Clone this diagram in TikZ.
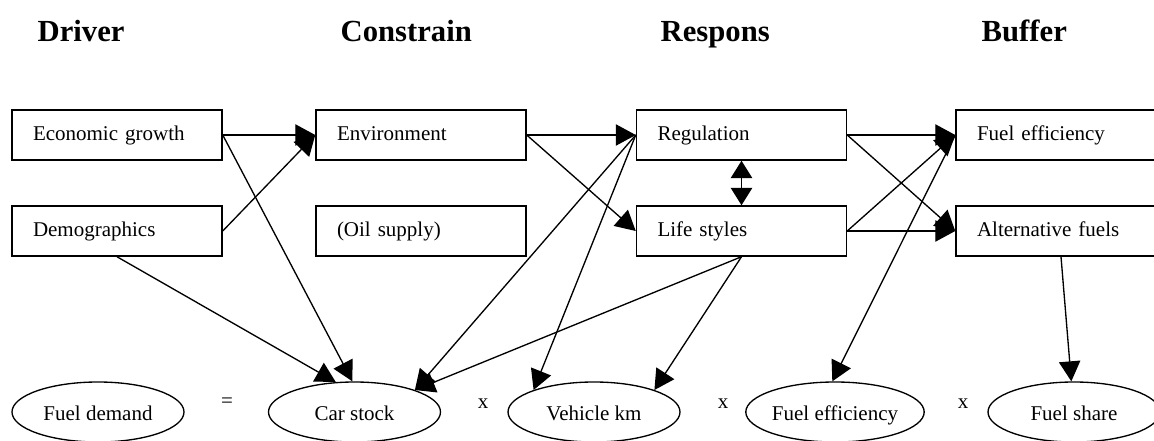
\documentclass[tikz,border=0pt]{standalone}
\usepackage{fontspec}
\setmainfont{Liberation Serif}
\usetikzlibrary{arrows.meta,shapes.geometric}
\begin{document}
\begin{tikzpicture}[x=0.75pt,y=-0.75pt,
    box/.style={draw,line width=1.1pt,minimum height=37.5pt,text width=126pt,inner xsep=15.75pt,align=left,text height=9pt,text depth=0pt,font=\fontsize{15.75pt}{18pt}\selectfont},
    oval/.style={draw,ellipse,line width=1pt,minimum width=129pt,minimum height=45pt,inner sep=0pt,text height=12.5pt,text depth=0pt,font=\fontsize{15.75pt}{18pt}\selectfont},
    op/.style={font=\fontsize{15.75pt}{18pt}\selectfont},
    head/.style={anchor=base west,font=\bfseries\fontsize{23pt}{26pt}\selectfont},
    arr/.style={line width=1pt,-{Triangle[length=15pt,width=16pt]}},
    dbl/.style={line width=1pt,{Triangle[length=13pt,width=16pt]}-{Triangle[length=13pt,width=16pt]}}]
    \useasboundingbox (0,0) rectangle (1154,441);
    \node[head] (hdriver) at (33,42) {Driver};
    \node[head] (hconstrain) at (336,42) {Constrain};
    \node[head] (hrespons) at (656,42) {Respons};
    \node[head] (hbuffer) at (977,42) {Buffer};
    \node[box] (econ) at (117,135) {Economic growth};
    \node[box] (demo) at (117,231) {Demographics};
    \node[box] (env) at (421,135) {Environment};
    \node[box] (oil) at (421,231) {(Oil supply)};
    \node[box] (reg) at (741.5,135) {Regulation};
    \node[box] (life) at (741.5,231) {Life styles};
    \node[box] (feffbox) at (1061,135) {Fuel efficiency};
    \node[box] (alt) at (1061,231) {Alternative fuels};
    \node[oval] (fdem) at (98,412) {Fuel demand};
    \node[oval] (cars) at (354.5,412) {Car stock};
    \node[oval] (vkm) at (594,412) {Vehicle km};
    \node[oval] (feff) at (835,412) {Fuel efficiency};
    \node[oval] (fshare) at (1074,412) {Fuel share};
    \node[op] (eq) at (227,403) {=};
    \node[op] (x1) at (483,404) {x};
    \node[op] (x2) at (723,404) {x};
    \node[op] (x3) at (963,404) {x};
    \draw[arr] (econ.east) -- (env.west);
    \draw[arr] (demo.east) -- (env.west);
    \draw[arr] (econ.east) -- (cars.94);
    \draw[arr] (demo.south) -- (cars.122);
    \draw[arr] (env.east) -- (reg.west);
    \draw[arr] (env.east) -- (life.west);
    \draw[arr] (reg.west) -- (cars.20);
    \draw[arr] (reg.west) -- (vkm.160);
    \draw[arr] (life.south) -- (cars.20);
    \draw[arr] (life.south) -- (vkm.20);
    \draw[dbl] (reg.south) -- (life.north);
    \draw[arr] (reg.east) -- (feffbox.west);
    \draw[arr] (reg.east) -- (alt.west);
    \draw[arr] (life.east) -- (feffbox.west);
    \draw[arr] (life.east) -- (alt.west);
    \draw[arr] (feffbox.west) -- (feff.95);
    \draw[arr] (alt.south) -- (fshare.95);
\end{tikzpicture}
\end{document}
